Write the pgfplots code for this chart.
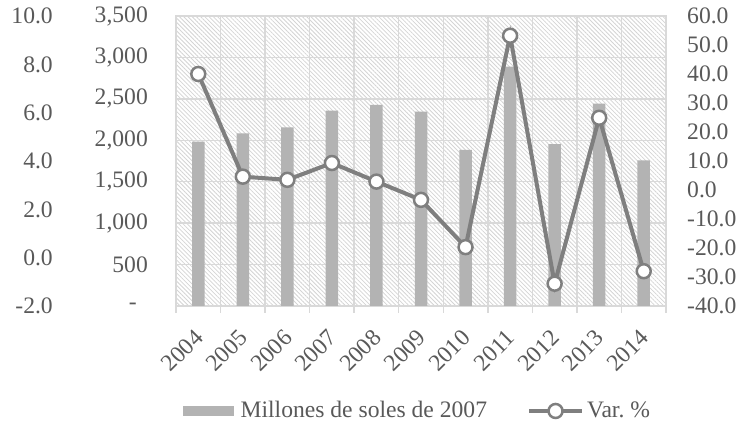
\documentclass[border=0pt]{standalone}
\usepackage{pgfplots}
\pgfplotsset{compat=1.18}
\usepackage{fontspec}
\setmainfont{Liberation Serif}
\usetikzlibrary{patterns.meta}
\definecolor{txt}{HTML}{595959}
\definecolor{barc}{HTML}{B3B3B3}
\definecolor{linec}{HTML}{7F7F7F}
\definecolor{gridc}{HTML}{D9D9D9}
\definecolor{hatchc}{HTML}{D4D4D4}
\begin{document}
\fontsize{23.6bp}{28bp}\selectfont
\begin{tikzpicture}
\useasboundingbox (0,0) rectangle (750bp,427bp);
\pgfplotsset{
  base/.style={
    at={(176bp,121bp)}, anchor=south west,
    scale only axis, width=490bp, height=290bp,
    xmin=-0.5, xmax=10.5,
    tick label style={text=txt},
  }
}
% far-left auxiliary axis
\begin{axis}[base,
  ymin=-2, ymax=10, ytick={-2,0,...,10},
  yticklabels={-2.0,0.0,2.0,4.0,6.0,8.0,10.0},
  ytick pos=left, major tick length=0pt,
  yticklabel style={inner sep=0pt, anchor=east, xshift=-123bp},
  xtick=\empty, axis line style={draw=none},
]
\end{axis}
% bar axis
\begin{axis}[base,
  ymin=0, ymax=3500, ytick={0,500,...,3500},
  yticklabels={{-\hspace*{11bp}},500,{1,000},{1,500},{2,000},{2,500},{3,000},{3,500}},
  ytick pos=left,
  ymajorgrids, major grid style={gridc, line width=1.5bp},
  xtick={0,...,10}, xticklabels={2004,2005,2006,2007,2008,2009,2010,2011,2012,2013,2014},
  minor xtick={-0.5,0.5,...,10.5}, xminorgrids, minor grid style={gridc, line width=1.5bp},
  xtick pos=bottom,
  tick style={gridc, line width=1.5bp},
  major tick length=0pt, minor tick length=7bp, tick align=outside,
  axis line style={gridc, line width=1.5bp},
  axis background/.style={pattern={Lines[angle=-45,distance=3bp,line width=0.8bp]}, pattern color=hatchc},
  yticklabel style={inner sep=0pt, anchor=east, xshift=-28bp},
  xticklabel style={xshift=-5bp, yshift=-22bp, rotate=45, anchor=north east, inner sep=0pt},
  ybar, bar width=12.5bp,
]
\addplot[fill=barc, draw=none] coordinates {(0,1983) (1,2084) (2,2157) (3,2357) (4,2426) (5,2345) (6,1883) (7,2888) (8,1955) (9,2442) (10,1758)};
\end{axis}
% line axis
\begin{axis}[base,
  ymin=-40, ymax=60, ytick={-40,-30,...,60},
  yticklabels={-40.0,-30.0,-20.0,-10.0,0.0,10.0,20.0,30.0,40.0,50.0,60.0},
  yticklabel pos=right, ytick pos=right, major tick length=0pt,
  yticklabel style={inner sep=0pt, anchor=west, xshift=21bp},
  xtick=\empty, axis line style={draw=none},
  legend columns=2,
  legend style={at={(0.491,-0.362)}, anchor=center, draw=none, fill=none,
    inner sep=0pt, text=txt, nodes={inner sep=0pt},
    /tikz/every even column/.append style={column sep=40bp}},
]
\addlegendimage{legend image code/.code={\fill[barc] (0bp,-4.5bp) rectangle (50bp,4.5bp); \path (57bp,0bp);}}
\addlegendentry{Millones de soles de 2007}
\addplot[linec, line width=4bp, mark=*, mark size=7bp,
  mark options={fill=white, draw=linec, line width=2.5bp},
  legend image code/.code={\draw[linec, line width=4bp] (0bp,0bp)--(53bp,0bp); \draw[linec, line width=2.5bp, fill=white] (26.5bp,0bp) circle (7bp); \path (56bp,0bp);}]
  coordinates {(0,40.0) (1,4.6) (2,3.5) (3,9.3) (4,2.9) (5,-3.4) (6,-19.7) (7,53.2) (8,-32.3) (9,24.9) (10,-28.0)};
\addlegendentry{Var.\ \%}
\end{axis}
\end{tikzpicture}
\end{document}
